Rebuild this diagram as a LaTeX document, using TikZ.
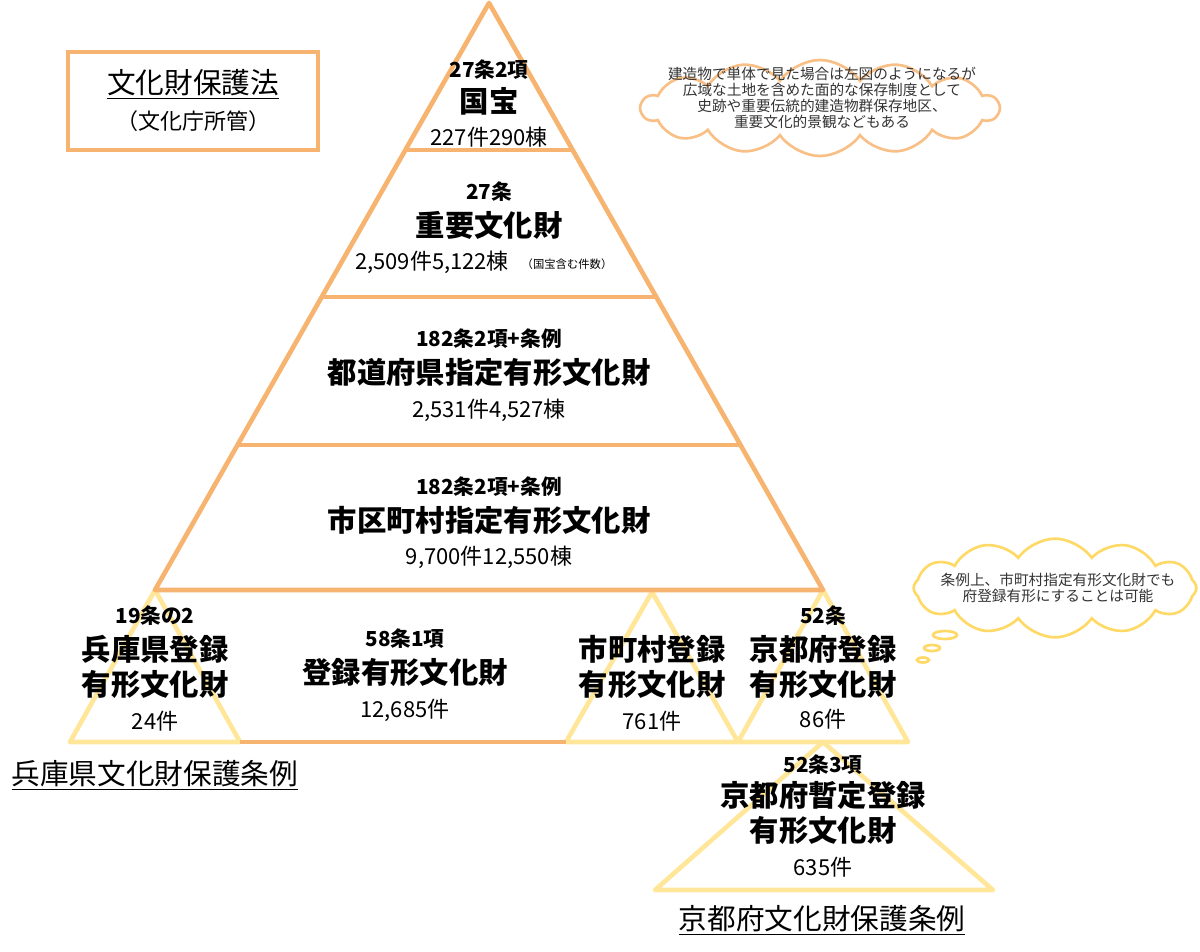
\documentclass[tikz,border=0pt]{standalone}
\usepackage{fontspec}
\setmainfont{Noto Sans CJK JP}
\usetikzlibrary{shapes.symbols}
\definecolor{org}{HTML}{F7B471}
\definecolor{yel}{HTML}{FFE699}
\definecolor{yel2}{HTML}{FFD966}
\begin{document}
\begin{tikzpicture}[x=0.75pt,y=-0.75pt,
  ol/.style={draw=org,line width=3.5pt,line join=round},
  yl/.style={draw=yel,line width=3.5pt,line join=round},
  art/.style={font=\fontsize{15.5}{17}\selectfont\bfseries,inner sep=0pt},
  ttl/.style={font=\fontsize{22}{26}\selectfont\bfseries,inner sep=0pt,align=center},
  num/.style={font=\fontsize{16.5}{18}\selectfont,inner sep=0pt},
  note/.style={font=\fontsize{11}{12}\selectfont,inner sep=0pt,align=center,text=black!80},
  law/.style={font=\fontsize{21.5}{24}\selectfont,inner sep=0pt}]
\useasboundingbox (0,0) rectangle (1200,951);
% yellow triangles
\draw[yl] (155,590) -- (240,742) -- (70,742) -- cycle;
\draw[yl] (652,592) -- (738,742) -- (566,742) -- cycle;
\draw[yl] (823,590) -- (908,742) -- (738,742) -- cycle;
\draw[yl] (823,742) -- (993,890) -- (655,890) -- cycle;
% main pyramid
\draw[ol] (489,3) -- (823,590) -- (155,590) -- cycle;
\draw[ol] (406,150) -- (573,150);
\draw[ol] (322,297) -- (657,297);
\draw[ol] (239,445) -- (740,445);
\draw[ol] (240,742) -- (566,742);
% box
\draw[draw=org,line width=2.5pt] (68,52) rectangle (318,150);
\node[law] (t0) at (193,84) {\underline{文化財保護法}};
\node[num] (t0b) at (193,121) {（文化庁所管）};
% texts
\node[art] (a1) at (489,70) {27条2項};
\node[ttl] (n1) at (489,101) {国宝};
\node[num] (c1) at (489,137) {227件290棟};
\node[art] (a2) at (489,192) {27条};
\node[ttl] (n2) at (489,225) {重要文化財};
\node[num] (c2) at (432,262) {2,509件5,122棟};
\node[font=\fontsize{8.5}{9}\selectfont,inner sep=0pt] (c2b) at (567,264) {（国宝含む件数）};
\node[art] (a3) at (489,339) {182条2項+条例};
\node[ttl] (n3) at (489,372) {都道府県指定有形文化財};
\node[num] (c3) at (489,410) {2,531件4,527棟};
\node[art] (a4) at (489,487) {182条2項+条例};
\node[ttl] (n4) at (489,520) {市区町村指定有形文化財};
\node[num] (c4) at (489,557) {9,700件12,550棟};
\node[art] (a5) at (155,616) {19条の2};
\node[ttl] (n5) at (155,667) {兵庫県登録\\有形文化財};
\node[num] (c5) at (155,721) {24件};
\node[art] (a6) at (405,639) {58条1項};
\node[ttl] (n6) at (405,672) {登録有形文化財};
\node[num] (c6) at (405,710) {12,685件};
\node[ttl] (n7) at (652,667) {市町村登録\\有形文化財};
\node[num] (c7) at (652,721) {761件};
\node[art] (a8) at (823,616) {52条};
\node[ttl] (n8) at (823,667) {京都府登録\\有形文化財};
\node[num] (c8) at (823,719) {86件};
\node[art] (a9) at (823,765) {52条3項};
\node[ttl] (n9) at (823,813) {京都府暫定登録\\有形文化財};
\node[num] (c9) at (823,867) {635件};
\node[law] (l1) at (155,775) {\underline{兵庫県文化財保護条例}};
\node[law] (l2) at (822,920) {\underline{京都府文化財保護条例}};
% clouds
\node[cloud,cloud puffs=14,cloud puff arc=110,aspect=4,draw=org!85,line width=2pt,
  minimum width=268pt,minimum height=72pt] (cl1) at (820,108) {};
\node[note] (cl1t) at (822,98) {建造物で単体で見た場合は左図のようになるが\\広域な土地を含めた面的な保存制度として\\史跡や重要伝統的建造物群保存地区、\\重要文化的景観などもある};
\node[cloud,cloud puffs=12,cloud puff arc=110,aspect=3,draw=yel2,line width=2pt,
  minimum width=212pt,minimum height=74pt] (cl2) at (1055,588) {};
\node[note] (cl2t) at (1058,588) {条例上、市町村指定有形文化財でも\\府登録有形にすることは可能};
\draw[draw=yel2,line width=2pt] (945,635) ellipse (12 and 4);
\draw[draw=yel2,line width=2pt] (932,648) ellipse (8 and 3);
\draw[draw=yel2,line width=2pt] (923,660) ellipse (6 and 2.5);
\end{tikzpicture}
\end{document}
